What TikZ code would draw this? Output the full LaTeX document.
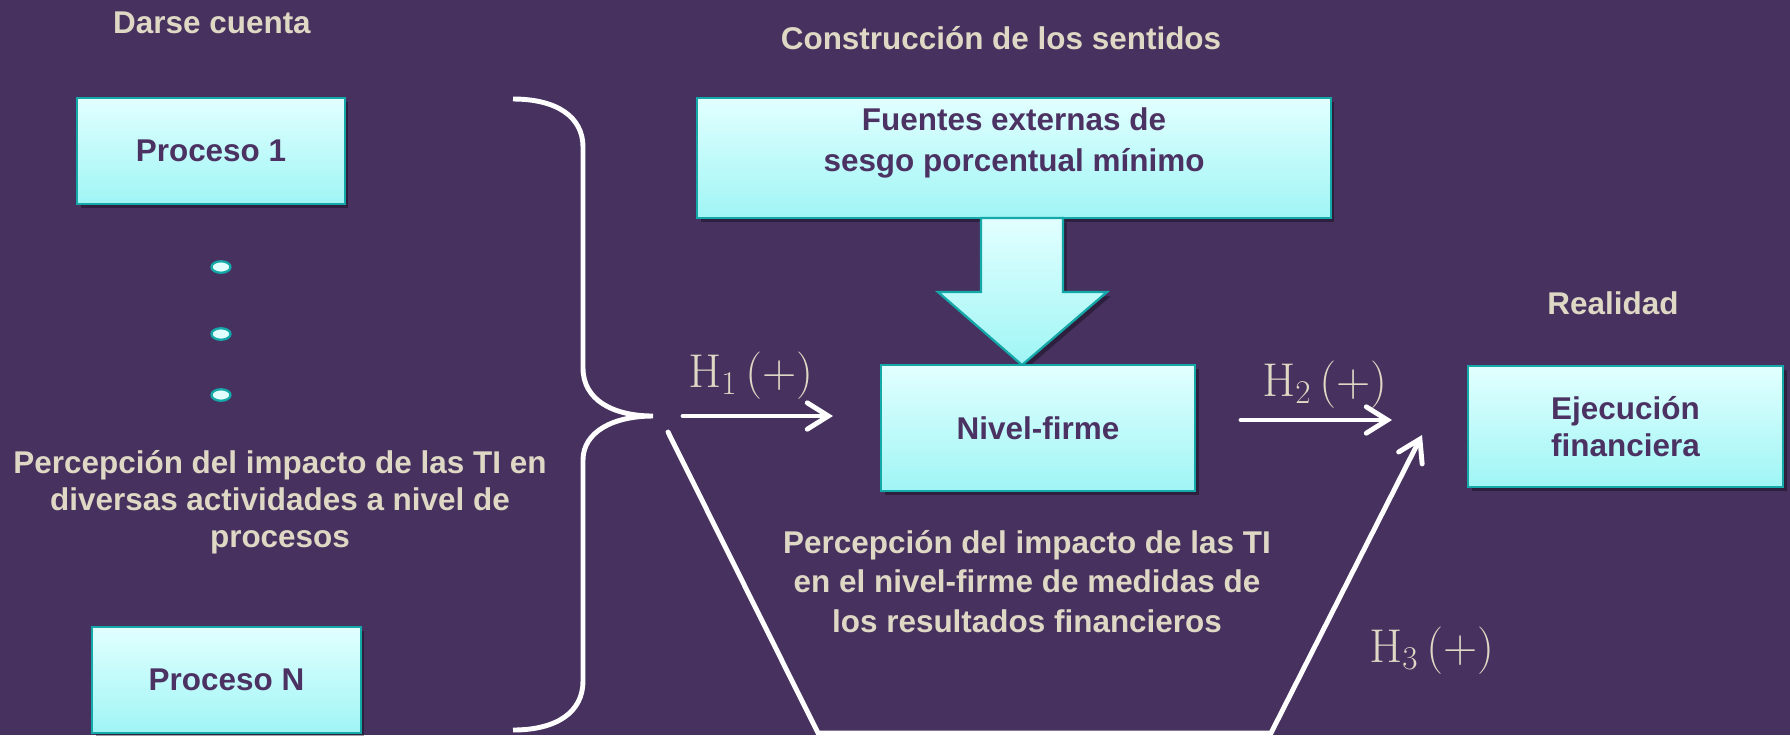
\documentclass[tikz,border=0pt]{standalone}
\usepackage{fix-cm}
\usepackage[no-math]{fontspec}
\setmainfont{Liberation Sans}
\usetikzlibrary{arrows.meta,shapes.geometric,shadows}
\definecolor{bg}{RGB}{70,49,95}
\definecolor{lighttxt}{RGB}{222,216,196}
\definecolor{boxtxt}{RGB}{75,50,98}
\definecolor{boxtop}{RGB}{226,255,255}
\definecolor{boxbot}{RGB}{160,245,245}
\definecolor{tealb}{RGB}{20,168,168}
\tikzset{
  procbox/.style={draw=tealb, line width=1.3pt, top color=boxtop, bottom color=boxbot,
    text=boxtxt, font=\fontsize{17.9}{21}\selectfont\bfseries, align=center, inner sep=0pt,
    drop shadow={shadow xshift=2pt, shadow yshift=-2.5pt, opacity=0.35, fill=black}},
  boxlabel/.style={text=boxtxt, font=\fontsize{17.9}{23.2}\selectfont\bfseries, align=center, inner sep=0pt},
  lbl/.style={text=lighttxt, font=\fontsize{17.9}{20.7}\selectfont\bfseries, align=center, inner sep=0pt},
  hyp/.style={text=lighttxt, font=\fontsize{27}{32}\selectfont, inner sep=0pt, anchor=base west},
  conn/.style={draw=white, line width=2.8pt, line cap=round, -{Straight Barb[length=12pt, width=15pt, line cap=round]}},
  dotst/.style={ellipse, draw=tealb, line width=1.3pt, fill=boxtop, minimum width=0.38cm, minimum height=0.23cm, inner sep=0pt},
  bracest/.style={draw=white, line width=2.8pt}
}
\begin{document}
\begin{tikzpicture}[x=0.02cm,y=-0.02cm]
\useasboundingbox (0,0) rectangle (1790,735);
\fill[bg] (0,0) rectangle (1790,735);

% headings
\node[lbl, anchor=base] (dc) at (212,33) {Darse cuenta};
\node[lbl, anchor=base] (cs) at (1001,49.5) {Construcción de los sentidos};
\node[lbl, anchor=base] (re) at (1613,314) {Realidad};

% left column
\node[procbox, minimum width=5.36cm, minimum height=2.12cm] (p1) at (211,151) {Proceso 1};
\node[dotst] (d1) at (221,267) {};
\node[dotst] (d2) at (221,334) {};
\node[dotst] (d3) at (221,395) {};
\node[lbl, anchor=base, font=\fontsize{17.9}{20.9}\selectfont\bfseries] (pl) at (280,547) {Percepción del impacto de las TI en\\diversas actividades a nivel de\\procesos};
\node[procbox, minimum width=5.38cm, minimum height=2.12cm] (pN) at (226.5,680) {Proceso N};

% brace
\draw[bracest] (513,99) .. controls (557,99) and (583,117) .. (583,147)
  -- (583,368) .. controls (583,400) and (613,416) .. (653,416)
  .. controls (613,416) and (583,432) .. (583,460)
  -- (583,681) .. controls (583,712) and (557,730) .. (513,730);

% top box and block arrow
\node[procbox, minimum width=12.68cm, minimum height=2.4cm] (fe) at (1014,158) {};
\node[boxlabel] (fet) at (1014,143) {Fuentes externas de\\sesgo porcentual mínimo};
\path[draw=tealb, line width=1.3pt, top color=boxtop, bottom color=boxbot,
  drop shadow={shadow xshift=2pt, shadow yshift=-2.5pt, opacity=0.35, fill=black}]
  (981,218) -- (1063,218) -- (1063,292) -- (1107,292) -- (1022,365) -- (938,292) -- (981,292) -- cycle;

% middle and right boxes
\node[procbox, minimum width=6.28cm, minimum height=2.52cm] (nf) at (1038,428) {Nivel-firme};
\node[procbox, minimum width=6.3cm, minimum height=2.42cm] (ej) at (1625.5,426.5) {Ejecución\\financiera};

\node[lbl, anchor=base, font=\fontsize{17.9}{22.4}\selectfont\bfseries] (pr) at (1027,632)
  {Percepción del impacto de las TI\\en el nivel-firme de medidas de\\los resultados financieros};

% hypotheses
\node[hyp] (h1) at (688,387) {$\mathrm{H}_1\,(+)$};
\node[hyp] (h2) at (1262,396) {$\mathrm{H}_2\,(+)$};
\node[hyp] (h3) at (1369,662) {$\mathrm{H}_3\,(+)$};

\coordinate (h1s) at (683,416);
\coordinate (h1e) at (833,416);
\coordinate (h2s) at (1241,420);
\coordinate (h2e) at (1392,420);
\coordinate (h3a) at (668,432);
\coordinate (h3b) at (818,733);
\coordinate (h3c) at (1271,733);
\coordinate (h3d) at (1422,435);
\draw[conn] (h1s) -- (h1e);
\draw[conn] (h2s) -- (h2e);
\draw[conn, line join=miter] (h3a) -- (h3b) -- (h3c) -- (h3d);
\end{tikzpicture}
\end{document}
